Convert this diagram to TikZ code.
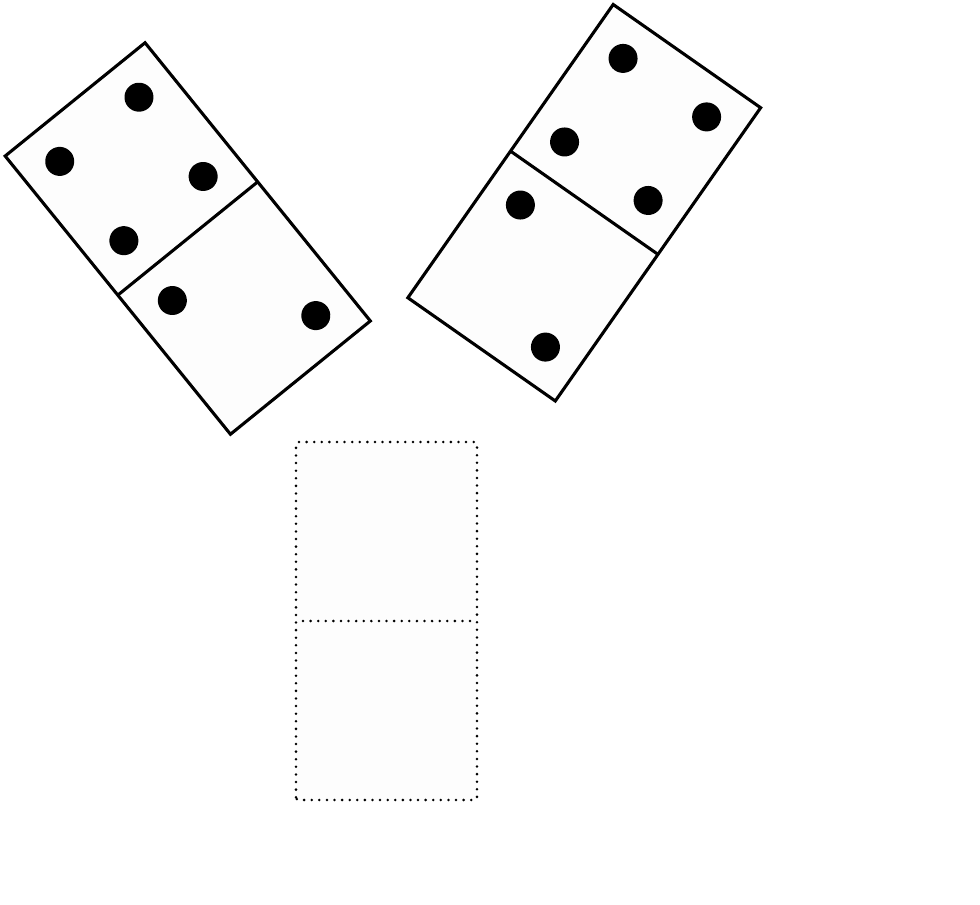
\documentclass[tikz,border=0pt]{standalone}
\usepackage{tikz}

\begin{document}
\begin{tikzpicture}[x=0.025cm,y=0.025cm,
    domino/.style={draw=black,line width=2.2pt,fill=black!0.8},
    pip/.style={fill=black},
    ghost/.style={draw=black,line width=2pt,line cap=round,dash pattern=on 0pt off 5.4pt}]
    \useasboundingbox (0,0) rectangle (980,904);

    % left domino: 4 | 2
    \begin{scope}[shift={(187.75,665.5)},rotate=39]
        \draw[domino] (-90,-179) rectangle (90,179);
        \draw[line width=2.2pt] (-90,0) -- (90,0);
        \foreach \x/\y in {-51/140.5,51/140.5,-51/38.5,51/38.5,-51/-38.5,51/-140.5} {
            \fill[pip] (\x,\y) circle (14.5);
        }
    \end{scope}

    % right domino: 4 | 2
    \begin{scope}[shift={(584.25,701.25)},rotate=-35]
        \draw[domino] (-90,-179) rectangle (90,179);
        \draw[line width=2.2pt] (-90,0) -- (90,0);
        \foreach \x/\y in {-51/140.5,51/140.5,-51/38.5,51/38.5,-51/-38.5,51/-140.5} {
            \fill[pip] (\x,\y) circle (14.5);
        }
    \end{scope}

    % empty domino, still to be placed
    \fill[black!0.8,rounded corners=2pt] (296,104) rectangle (477,462);
    \draw[ghost,rounded corners=2pt] (296,104) rectangle (477,462);
    \draw[ghost] (303,283) -- (477,283);
\end{tikzpicture}
\end{document}
